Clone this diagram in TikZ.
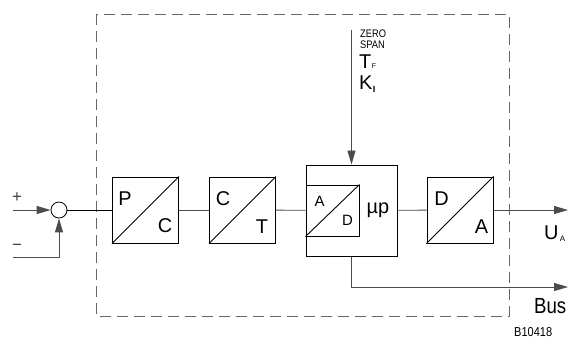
\documentclass[tikz,border=0pt]{standalone}
\usepackage{fontspec}
\setmainfont{Liberation Sans}
\newfontfamily\narrowfont{Liberation Sans}[FakeStretch=0.85]
\usetikzlibrary{arrows.meta,positioning}
\tikzset{
  conv/.style={draw, line width=1bp, minimum size=66bp, inner sep=0pt},
  wire/.style={line width=0.9bp, draw=black!70},
  tip/.style={-{Triangle[length=14bp,width=8bp]}},
  big/.style={font=\fontsize{20}{20}\selectfont, inner sep=0pt},
  small/.style={font=\fontsize{15}{15}\selectfont, inner sep=0pt},
}
\begin{document}
\begin{tikzpicture}[x=1bp,y=-1bp]
    \useasboundingbox (0,0) rectangle (572,340);
    % frame
    \draw[black!60, line width=1bp, dash pattern=on 11bp off 6bp] (96,14) rectangle (509,316);
    % blocks
    \node[circle, draw, line width=0.8bp, minimum size=16bp, inner sep=0pt] (sum) at (59,210) {};
    \node[conv] (pc) at (145.5,210) {};
    \node[conv] (ct) at (242.5,210) {};
    \node[conv, minimum size=91bp] (mp) at (351.5,210.5) {};
    \node[conv, minimum width=53bp, minimum height=51bp, anchor=west] (ad) at (mp.west) {};
    \node[conv] (da) at (460,210) {};
    \foreach \b in {pc,ct,ad,da}
        \draw[line width=0.9bp] (\b.south west) -- (\b.north east);
    % letters
    \node[big] at ([shift={(13,22)}]pc.north west) {P};
    \node[big] at ([shift={(-14,-18)}]pc.south east) {C};
    \node[big] at ([shift={(14,22)}]ct.north west) {C};
    \node[big] at ([shift={(-14,-17)}]ct.south east) {T};
    \node[small] at ([shift={(14,17)}]ad.north west) {A};
    \node[small] at ([shift={(-12,-16)}]ad.south east) {D};
    \node[big] at (378,210) {µp};
    \node[big] at ([shift={(15,22)}]da.north west) {D};
    \node[big] at ([shift={(-12,-17)}]da.south east) {A};
    % signals
    \coordinate (in) at (13,210);
    \coordinate (fb) at (13,257);
    \coordinate (par) at (351.5,30);
    \coordinate (ua) at (568,210);
    \coordinate (bus) at (568,287);
    \draw[wire, tip] (in) -- (sum);
    \draw[wire, tip] (fb) -| (sum.south);
    \draw[line width=1bp] (sum) -- (pc);
    \draw[wire] (pc) -- (ct);
    \draw[wire] (ct) -- (mp);
    \draw[wire] (mp) -- (da);
    \draw[wire, tip] (da) -- (ua);
    \draw[wire, tip] (par) -- (mp.north);
    \draw[wire, tip] (mp.south) |- (bus);
    % labels
    \node[font=\fontsize{17}{17}\selectfont, text=black!75] at (17,198) {+};
    \node[font=\fontsize{17}{17}\selectfont, text=black!75] at (17,247) {−};
    \node[anchor=base west, inner sep=0pt, font=\narrowfont\fontsize{11}{11}\selectfont] at (360,37) {ZERO};
    \node[anchor=base west, inner sep=0pt, font=\narrowfont\fontsize{11}{11}\selectfont] at (360,48) {SPAN};
    \node[anchor=base west, inner sep=0pt, font=\fontsize{20}{20}\selectfont] (tf) at (359,68) {T};
    \node[anchor=base west, inner sep=0pt, font=\fontsize{7}{7}\selectfont] at (tf.base east) {F};
    \node[anchor=base west, inner sep=0pt, font=\fontsize{20}{20}\selectfont] (ki) at (359,89) {K};
    \node[anchor=base west, inner sep=0pt, font=\bfseries\fontsize{9}{9}\selectfont] at ([yshift=-3bp]ki.base east) {I};
    \node[anchor=base west, inner sep=0pt, font=\fontsize{20}{20}\selectfont] (uu) at (544,239) {U};
    \node[anchor=base west, inner sep=0pt, font=\fontsize{8}{8}\selectfont] at ([xshift=1bp,yshift=-2bp]uu.base east) {A};
    \node[anchor=base west, inner sep=0pt, font=\narrowfont\fontsize{22}{22}\selectfont] at (534,313) {Bus};
    \node[anchor=base west, inner sep=0pt, font=\narrowfont\fontsize{13}{13}\selectfont] at (514,336) {B10418};
\end{tikzpicture}
\end{document}
